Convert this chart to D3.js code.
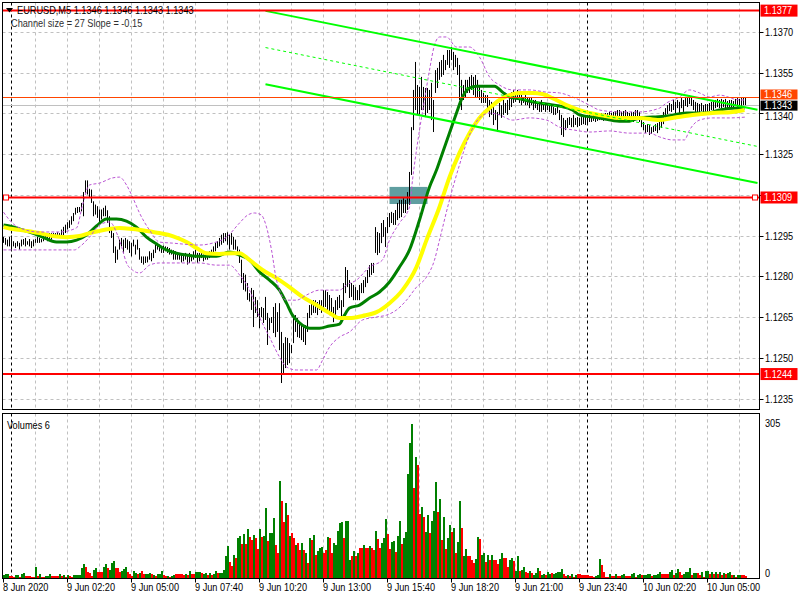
<!DOCTYPE html>
<html><head><meta charset="utf-8">
<script src="https://cdn.jsdelivr.net/npm/d3@7/dist/d3.min.js"></script>
<style>body{margin:0;background:#fff}svg{display:block}text{font-family:"Liberation Sans",Arial,sans-serif;font-size:10px}</style>
</head><body><svg id="c" width="800" height="600"></svg>
<script>
// ---------- DATA ----------
const symbolTitle = "EURUSD,M5  1.1346 1.1346 1.1343 1.1343";
const channelText = "Channel size = 27 Slope = -0.15";
const volumeTitle = "Volumes 6";
const priceTicks = [1.1370,1.1355,1.1340,1.1325,1.1310,1.1295,1.1280,1.1265,1.1250,1.1235];
const hiddenTickLabels = [1.1310]; // covered by the 1.1309 level label in the original
const timeLabelBars = [0,32,64,96,128,160,192,224,256,288,320,352];
const timeLabels = ["8 Jun 2020","9 Jun 02:20","9 Jun 05:00","9 Jun 07:40","9 Jun 10:20","9 Jun 13:00","9 Jun 15:40","9 Jun 18:20","9 Jun 21:00","9 Jun 23:40","10 Jun 02:20","10 Jun 05:00"];
const gridBars = [16,32,48,64,80,96,112,128,144,160,176,192,208,224,240,256,272,288,304,320,336,352,368];
const daySeparatorBars = [4,292];
const volumeTicks = [305,0];

const highs = [
1.12945,1.12941,1.12935,1.12945,1.12950,1.12929,1.12923,1.12929,1.12923,1.12935,
1.12937,1.12941,1.12929,1.12937,1.12929,1.12935,1.12937,1.12945,1.12941,1.12937,
1.12950,1.12959,1.12953,1.12959,1.12959,1.12959,1.12959,1.12962,1.12959,1.12972,
1.12982,1.12990,1.12999,1.13006,1.13021,1.13033,1.13052,1.13055,1.13055,1.13070,
1.13110,1.13153,1.13153,1.13122,1.13119,1.13076,1.13064,1.13058,1.13046,1.13046,
1.13052,1.13060,1.13043,1.13021,1.12972,1.12959,1.12910,1.12898,1.12935,1.12941,
1.12935,1.12941,1.12935,1.12929,1.12923,1.12935,1.12916,1.12935,1.12904,1.12873,
1.12873,1.12873,1.12873,1.12892,1.12886,1.12898,1.12916,1.12923,1.12916,1.12910,
1.12913,1.12910,1.12908,1.12904,1.12898,1.12896,1.12892,1.12886,1.12883,1.12883,
1.12880,1.12886,1.12880,1.12886,1.12880,1.12892,1.12898,1.12886,1.12886,1.12892,
1.12880,1.12886,1.12883,1.12892,1.12898,1.12910,1.12923,1.12929,1.12941,1.12953,
1.12959,1.12959,1.12962,1.12953,1.12959,1.12945,1.12935,1.12910,1.12898,1.12861,
1.12812,1.12806,1.12775,1.12738,
1.12757,1.12749,1.12724,1.12712,1.12683,1.12687,1.12683,1.12724,1.12665,1.12646,
1.12650,1.12687,1.12701,1.12668,1.12701,1.12595,1.12554,1.12576,1.12573,1.12554,
1.12547,1.12650,1.12657,1.12646,1.12628,1.12628,1.12620,1.12620,1.12665,1.12694,
1.12705,1.12712,1.12712,1.12705,1.12712,1.12712,1.12749,1.12749,1.12742,1.12731,
1.12720,1.12687,1.12712,1.12724,1.12731,1.12712,1.12775,1.12834,1.12823,1.12786,
1.12775,1.12768,1.12760,1.12749,1.12768,1.12775,1.12786,1.12797,1.12823,1.12841,
1.12849,1.12849,1.12981,1.12963,1.12959,1.12996,1.13007,1.12981,1.13018,1.13033,
1.13037,1.13033,1.13044,1.13070,1.13081,1.13081,1.13088,1.13081,1.13110,1.13184,
1.13349,1.13486,1.13589,1.13504,1.13497,1.13534,1.13497,1.13493,1.13493,1.13486,
1.13512,1.13449,1.13559,1.13567,1.13589,1.13596,1.13615,1.13596,1.13633,1.13633,
1.13644,1.13626,1.13615,1.13604,1.13578,1.13523,1.13504,1.13523,1.13523,1.13534,
1.13541,1.13534,1.13541,1.13523,1.13504,1.13486,1.13475,1.13467,1.13467,1.13449,
1.13442,1.13430,1.13412,1.13405,1.13438,1.13430,1.13449,1.13438,1.13449,1.13467,
1.13478,1.13486,1.13478,1.13486,1.13478,1.13475,1.13460,1.13467,1.13460,1.13456,
1.13460,1.13449,1.13449,1.13438,1.13438,1.13449,1.13438,1.13438,1.13430,1.13438,
1.13430,1.13423,1.13419,1.13423,1.13412,1.13394,1.13383,1.13375,1.13383,1.13386,
1.13383,1.13394,1.13383,1.13386,1.13383,1.13386,1.13386,1.13390,1.13394,1.13394,
1.13390,1.13397,1.13397,1.13394,1.13397,1.13401,1.13397,1.13401,1.13401,1.13405,
1.13401,1.13405,1.13408,1.13412,1.13412,1.13405,1.13408,1.13412,1.13405,1.13401,
1.13405,1.13405,1.13412,1.13412,1.13405,1.13375,1.13368,1.13357,1.13360,1.13357,
1.13349,1.13353,1.13360,1.13364,1.13368,1.13383,1.13405,1.13419,1.13430,1.13438,
1.13434,1.13449,1.13442,1.13449,1.13442,1.13456,1.13449,1.13456,1.13460,1.13467,
1.13460,1.13449,1.13442,1.13438,1.13434,1.13438,1.13430,1.13434,1.13434,1.13438,
1.13442,1.13445,1.13449,1.13453,1.13449,1.13453,1.13449,1.13453,1.13445,1.13449,
1.13449,1.13445,1.13453,1.13456,1.13453,1.13456,1.13460,1.13460];

const lows = [
1.12923,1.12916,1.12910,1.12910,1.12898,1.12910,1.12904,1.12910,1.12898,1.12910,
1.12916,1.12910,1.12916,1.12910,1.12904,1.12910,1.12923,1.12923,1.12923,1.12925,
1.12929,1.12935,1.12929,1.12932,1.12935,1.12941,1.12945,1.12945,1.12941,1.12945,
1.12950,1.12959,1.12972,1.12978,1.12990,1.13003,1.13027,1.13033,1.13036,1.13039,
1.13021,1.13107,1.13101,1.13089,1.13070,1.13021,1.13027,1.13015,1.12996,1.13009,
1.13021,1.13021,1.12996,1.12959,1.12941,1.12886,1.12849,1.12861,1.12898,1.12910,
1.12886,1.12904,1.12898,1.12886,1.12873,1.12910,1.12880,1.12898,1.12861,1.12849,
1.12843,1.12849,1.12851,1.12861,1.12855,1.12867,1.12886,1.12898,1.12892,1.12886,
1.12886,1.12892,1.12886,1.12880,1.12880,1.12861,1.12861,1.12861,1.12861,1.12851,
1.12855,1.12861,1.12843,1.12849,1.12855,1.12861,1.12867,1.12849,1.12855,1.12867,
1.12855,1.12861,1.12861,1.12867,1.12873,1.12886,1.12892,1.12904,1.12910,1.12916,
1.12923,1.12929,1.12916,1.12898,1.12916,1.12898,1.12898,1.12886,1.12849,1.12775,
1.12750,1.12744,1.12713,1.12707,
1.12676,1.12613,1.12665,1.12650,1.12609,1.12650,1.12628,1.12639,1.12547,1.12602,
1.12628,1.12591,1.12576,1.12595,1.12528,1.12407,1.12444,1.12462,1.12473,1.12480,
1.12517,1.12554,1.12595,1.12576,1.12573,1.12565,1.12558,1.12547,1.12595,1.12646,
1.12657,1.12665,1.12665,1.12657,1.12676,1.12665,1.12676,1.12687,1.12668,1.12657,
1.12657,1.12631,1.12657,1.12676,1.12683,1.12650,1.12687,1.12738,1.12760,1.12720,
1.12724,1.12712,1.12712,1.12712,1.12712,1.12738,1.12738,1.12760,1.12775,1.12797,
1.12805,1.12812,1.12886,1.12878,1.12886,1.12922,1.12945,1.12908,1.12959,1.12981,
1.12996,1.12989,1.12989,1.13007,1.13014,1.13018,1.13033,1.13033,1.13044,1.13062,
1.13173,1.13338,1.13412,1.13394,1.13394,1.13412,1.13412,1.13386,1.13401,1.13412,
1.13375,1.13331,1.13475,1.13493,1.13523,1.13534,1.13541,1.13559,1.13578,1.13567,
1.13596,1.13559,1.13570,1.13541,1.13449,1.13412,1.13449,1.13460,1.13475,1.13475,
1.13486,1.13467,1.13460,1.13460,1.13449,1.13438,1.13438,1.13438,1.13419,1.13386,
1.13394,1.13357,1.13375,1.13331,1.13394,1.13383,1.13394,1.13401,1.13394,1.13412,
1.13423,1.13438,1.13442,1.13449,1.13438,1.13430,1.13438,1.13430,1.13430,1.13419,
1.13430,1.13412,1.13419,1.13412,1.13405,1.13405,1.13412,1.13405,1.13412,1.13405,
1.13401,1.13394,1.13394,1.13401,1.13375,1.13320,1.13313,1.13338,1.13346,1.13357,
1.13349,1.13349,1.13357,1.13349,1.13353,1.13357,1.13360,1.13357,1.13364,1.13368,
1.13368,1.13372,1.13368,1.13372,1.13375,1.13375,1.13372,1.13375,1.13375,1.13379,
1.13375,1.13379,1.13383,1.13375,1.13372,1.13375,1.13383,1.13386,1.13375,1.13375,
1.13379,1.13368,1.13383,1.13375,1.13368,1.13349,1.13338,1.13327,1.13331,1.13320,
1.13324,1.13331,1.13335,1.13327,1.13338,1.13346,1.13360,1.13383,1.13397,1.13408,
1.13405,1.13412,1.13394,1.13419,1.13401,1.13419,1.13405,1.13427,1.13423,1.13434,
1.13427,1.13412,1.13405,1.13401,1.13401,1.13408,1.13401,1.13405,1.13405,1.13408,
1.13412,1.13412,1.13419,1.13423,1.13419,1.13419,1.13423,1.13419,1.13416,1.13419,
1.13423,1.13419,1.13427,1.13423,1.13423,1.13427,1.13430,1.13430];

const volumes = [
5,7,7,3,3,2,5,5,2,7,10,4,4,4,1,1,
22,3,7,2,2,3,4,7,4,4,4,3,7,3,5,2,5,3,2,5,5,
5,5,20,28,21,12,10,4,15,19,11,11,11,21,27,20,16,30,33,20,
20,12,14,17,21,11,7,3,14,10,8,9,13,7,7,7,9,7,6,4,
7,8,14,5,3,4,1,3,5,7,7,7,7,5,7,5,14,7,7,11,
11,11,9,7,10,6,9,6,8,14,9,10,10,15,
43,63,32,23,45,40,79,84,67,88,67,98,82,75,86,80,57,98,82,84,
138,73,90,90,118,65,50,193,152,110,148,124,84,90,80,65,69,55,69,55,
50,29,79,75,86,45,53,59,61,49,55,82,80,49,69,65,94,108,110,79,
112,112,35,43,53,43,49,59,59,66,59,59,64,59,55,94,78,
59,69,79,116,88,57,71,73,51,84,112,67,79,92,205,267,305,178,239,223,
126,140,120,92,124,90,112,132,191,130,156,75,120,57,79,104,92,100,49,71,
152,100,43,57,43,43,35,29,37,82,77,45,49,31,45,35,45,35,35,27,
37,49,39,39,21,35,39,33,13,43,13,15,21,11,9,13,9,5,9,19,
13,5,7,5,11,7,9,7,9,11,11,17,7,3,5,3,7,1,5,7,
7,5,5,5,5,3,3,1,3,5,37,25,11,1,1,7,3,3,7,3,
3,5,7,3,3,3,7,9,1,5,7,5,5,5,7,7,3,5,5,7,
11,7,7,7,7,11,15,5,9,17,11,5,7,11,11,19,5,9,9,9,
5,11,1,13,13,7,11,7,11,7,11,5,9,7,9,11,5,5,1,5,
5,5,5,4];

const volumeDirection = (
"GGGRRRGGRG"+"GRRRRRGRGR"+"RGGGRRRRGR"+"GRGRRGGGGG"+"GRRRRGGRRR"+
"GGRGGGRRRG"+"GGRRRGGRGR"+"RGGGRGRGGG"+"RRGRGGRRRR"+"RGRGRRGGGR"+"GGRGRGGRGGG"+
"GGRRGRGGRG"+"RGRRGRRGRG"+"GRGGGRRGRR"+"GRGRRGRRGR"+"GRGRGRGGGR"+"RGRRGGGGGR"+"GGGRGRGRRG"+"RRGRRGR"+
"RGGGRRGGRG"+"GRGGGGGRGR"+"RGRGGRGGGR"+"GRGRGGRGRG"+"GRGGRRRRGG"+"RGGRGRGRRR"+"GGRRRGGRGG"+
"RGGRRGRGGG"+"RGGRGGRGGG"+"GGRRGRGRGR"+"RRRRRRRRGG"+"GRRRRGRRGR"+"RGGRRRGGRG"+"GRGGGGRGGG"+
"GRRRRGGRGG"+"RRGGGGRGGR"+"RGRGGRGRGR"+"GRGRGGRGRG"+"GRRR").split("");

// moving averages (bar index, price)
const greenMABars = [0,3,8,14.5,19.5,26.5,31.5,36.5,41.5,46.5,51.5,56.5,61.5,66.5,71.5,76.5,81.5,86.5,91.5,96.5,106.5,113,118,123,128,133,138,141.5,144.5,148,153,158,163,168,170.5,173,178,183,188,193,198,203,208,213,216.5,219.5,223,226.5,229.5,233,236.5,245.5,249.5,253,258,264.5,271.5,278,284.5,288,298,308,313,318,324.5,331.5,341.5,351.5,358,364.5,370.5];
const greenMA = [1.12989,1.12985,1.12974,1.12959,1.12944,1.12926,1.12926,1.12933,1.12952,1.12985,1.13011,1.13011,1.13003,1.12981,1.12944,1.12919,1.12897,1.12885,1.12878,1.12874,1.12874,1.12889,1.12878,1.12860,1.12816,1.12786,1.12749,1.12701,1.12657,1.12628,1.12609,1.12609,1.12617,1.12624,1.12657,1.12683,1.12694,1.12720,1.12742,1.12779,1.12834,1.12897,1.13007,1.13129,1.13191,1.13254,1.13327,1.13401,1.13460,1.13493,1.13500,1.13500,1.13478,1.13460,1.13453,1.13442,1.13434,1.13427,1.13412,1.13394,1.13383,1.13371,1.13371,1.13383,1.13386,1.13390,1.13401,1.13401,1.13412,1.13419,1.13419];
const yellowMABars = [0,4.5,11.5,18,24.5,31.5,38,43,48,53,58,64.5,71.5,78,84.5,91.5,96.5,101.5,108,114.5,118,123,129.5,136.5,143,149.5,156.5,163,168,173,179.5,186.5,193,199.5,206.5,211.5,218,223,228,233,238,243,248,253,258,264.5,269.5,274.5,281.5,288,298,308,318,328,334.5,344.5,354.5,364.5,370.5];
const yellowMA = [1.12981,1.12974,1.12967,1.12959,1.12948,1.12944,1.12948,1.12959,1.12967,1.12974,1.12978,1.12974,1.12967,1.12959,1.12948,1.12926,1.12904,1.12885,1.12882,1.12885,1.12885,1.12860,1.12823,1.12793,1.12760,1.12724,1.12694,1.12665,1.12646,1.12646,1.12654,1.12668,1.12701,1.12749,1.12834,1.12933,1.13055,1.13165,1.13254,1.13327,1.13383,1.13419,1.13449,1.13467,1.13475,1.13475,1.13471,1.13456,1.13430,1.13412,1.13394,1.13383,1.13383,1.13375,1.13383,1.13394,1.13401,1.13405,1.13412];
const upperBandBars = [0,3,8,18,28,36.5,39.5,43,48,54.5,58,61.5,64.5,68,73,78,84.5,98,104.5,111.5,118,122,125.5,129,131.5,134,136.5,141.5,146.5,151.5,158,168,171.5,176.5,183,189.5,193,198,203,204.5,208,210.5,213,215.5,218,221.5,226.5,233,238,243,248,254.5,263,271.5,278,284.5,293,298,308,318,328,331.5,338,343,348,353,358,368,371];
const upperBand = [1.13036,1.13007,1.12978,1.12963,1.12963,1.12978,1.13062,1.13136,1.13143,1.13162,1.13165,1.13136,1.13092,1.13033,1.12970,1.12926,1.12922,1.12915,1.12922,1.12944,1.12996,1.13025,1.13033,1.13025,1.12981,1.12897,1.12786,1.12712,1.12712,1.12731,1.12749,1.12749,1.12768,1.12786,1.12834,1.12860,1.12933,1.12996,1.13055,1.13154,1.13338,1.13449,1.13559,1.13651,1.13681,1.13681,1.13644,1.13644,1.13607,1.13534,1.13504,1.13486,1.13486,1.13478,1.13475,1.13460,1.13430,1.13412,1.13405,1.13405,1.13419,1.13438,1.13460,1.13486,1.13475,1.13460,1.13467,1.13449,1.13449];
const lowerBandBars = [0,8,35.5,38,43,48,53,57,59.5,61.5,64.5,68,73,78,88,98,106.5,113,118,123,128,133,138,141.5,146.5,156.5,159.5,163,168,173,179.5,186.5,191.5,196.5,201.5,206.5,211.5,215.5,218,223,228,233,238,243,248,254.5,263,271.5,278,285.5,293,303,313,323,328,334.5,340.5,343,348,354.5,363,371];
const lowerBand = [1.12897,1.12897,1.12897,1.12908,1.12944,1.12989,1.13000,1.12952,1.12897,1.12849,1.12823,1.12812,1.12841,1.12849,1.12849,1.12849,1.12841,1.12841,1.12805,1.12749,1.12650,1.12576,1.12503,1.12466,1.12455,1.12455,1.12491,1.12539,1.12576,1.12595,1.12639,1.12650,1.12657,1.12676,1.12712,1.12760,1.12797,1.12860,1.12933,1.13081,1.13210,1.13320,1.13383,1.13401,1.13394,1.13375,1.13383,1.13375,1.13349,1.13338,1.13331,1.13335,1.13327,1.13327,1.13313,1.13302,1.13302,1.13338,1.13375,1.13383,1.13383,1.13386];

// regression channel (bar index, price)
const channelBars = [131,377];
const channelUpper = [1.13777,1.13413];
const channelMiddle = [1.13642,1.13278];
const channelLower = [1.13507,1.13143];

// rectangle object
const rectBars = [193,212];
const rectPrices = [1.13129,1.13066];

// horizontal levels
const levelPrices = [1.13778,1.1309,1.1244];
const levelLabels = ["1.1377","1.1309","1.1244"];
const askPrice = 1.1346, askLabel = "1.1346";
const bidPrice = 1.1343, bidLabel = "1.1343";

// ---------- DRAW ----------
const svg = d3.select("#c");
const L = 2.5, R = 759.5, T = 2.5, B = 409.5, VT = 413.5, VB = 578.5;
const x = d3.scaleLinear().domain([0,377]).range([3.5,757.5]);
const y = d3.scaleLinear().domain([1.1235,1.1370]).range([398.5,31.8]);
const yv = d3.scaleLinear().domain([0,305]).range([578,424]);
const SX = 0.92;

function txt(g, px, py, s, fill){
  return g.append("text").attr("transform",`translate(${px},${py}) scale(${SX},1)`)
    .attr("fill", fill||"#000").text(s);
}

svg.append("rect").attr("width",800).attr("height",600).attr("fill","#fff");
const defs = svg.append("defs");
defs.append("clipPath").attr("id","mainClip").append("rect").attr("x",L).attr("y",T).attr("width",R-L).attr("height",B-T);
defs.append("clipPath").attr("id","volClip").append("rect").attr("x",L).attr("y",VT).attr("width",R-L).attr("height",VB-VT);

const main = svg.append("g").attr("clip-path","url(#mainClip)");
// grid
main.selectAll(".hg").data(priceTicks).join("line")
  .attr("x1",L).attr("x2",R).attr("y1",d=>Math.round(y(d))+0.5).attr("y2",d=>Math.round(y(d))+0.5)
  .attr("stroke","#c0c0c0").attr("stroke-dasharray","3,3");
main.selectAll(".vg").data(gridBars.filter(b=>!daySeparatorBars.includes(b))).join("line")
  .attr("x1",d=>x(d)).attr("x2",d=>x(d)).attr("y1",T).attr("y2",B)
  .attr("stroke","#c0c0c0").attr("stroke-dasharray","3,3");
main.selectAll(".ds").data(daySeparatorBars).join("line")
  .attr("x1",d=>x(d)).attr("x2",d=>x(d)).attr("y1",T).attr("y2",B)
  .attr("stroke","#000").attr("stroke-dasharray","3,3");
// rectangle object
main.append("rect").attr("x",x(rectBars[0])).attr("width",x(rectBars[1])-x(rectBars[0]))
  .attr("y",y(rectPrices[0])).attr("height",y(rectPrices[1])-y(rectPrices[0])).attr("fill","#5f9ea0");
// bid line
main.append("line").attr("x1",L).attr("x2",R).attr("y1",Math.round(y(bidPrice))+0.5).attr("y2",Math.round(y(bidPrice))+0.5)
  .attr("stroke","#c0c0c0");
// price bars
main.selectAll(".bar").data(highs).join("line")
  .attr("x1",(d,i)=>x(i)).attr("x2",(d,i)=>x(i))
  .attr("y1",d=>y(d)).attr("y2",(d,i)=>Math.max(y(lows[i]),y(d)+1))
  .attr("stroke","#000").attr("stroke-width",1);
// moving averages
const lineGen = (bars)=>d3.line().x((d,i)=>x(bars[i])).y(d=>y(d)).curve(d3.curveMonotoneX);
main.append("path").attr("d",lineGen(greenMABars)(greenMA)).attr("fill","none").attr("stroke","#008000").attr("stroke-width",3);
main.append("path").attr("d",lineGen(yellowMABars)(yellowMA)).attr("fill","none").attr("stroke","#ffff00").attr("stroke-width",4);
// bands
main.append("path").attr("d",lineGen(upperBandBars)(upperBand)).attr("fill","none").attr("stroke","#ba55d3").attr("stroke-dasharray","3,2");
main.append("path").attr("d",lineGen(lowerBandBars)(lowerBand)).attr("fill","none").attr("stroke","#ba55d3").attr("stroke-dasharray","3,2");
// channel
const straight = d3.line().x((d,i)=>x(channelBars[i])).y(d=>y(d));
main.append("path").attr("d",straight(channelUpper)).attr("stroke","#00ff00").attr("stroke-width",2).attr("fill","none");
main.append("path").attr("d",straight(channelLower)).attr("stroke","#00ff00").attr("stroke-width",2).attr("fill","none");
main.append("path").attr("d",straight(channelMiddle)).attr("stroke","#00ff00").attr("stroke-width",1).attr("stroke-dasharray","3,3").attr("fill","none");
// ask line
main.append("line").attr("x1",L).attr("x2",R).attr("y1",Math.round(y(askPrice))+0.5).attr("y2",Math.round(y(askPrice))+0.5)
  .attr("stroke","#ff4500");

// header text
const hdr = svg.append("g");
hdr.append("path").attr("d","M6,8 L13,8 L9.5,12.5 Z").attr("fill","#000");
txt(hdr, 17, 14, symbolTitle);
txt(hdr, 11, 27, channelText, "#303030");

// level lines
main.selectAll(".lvl").data(levelPrices).join("line")
  .attr("x1",L).attr("x2",R).attr("y1",d=>y(d)).attr("y2",d=>y(d))
  .attr("stroke","#ff0000").attr("stroke-width",2);
svg.append("rect").attr("x",3.5).attr("y",y(levelPrices[1])-2.5).attr("width",5).attr("height",5).attr("fill","#fff").attr("stroke","#ff0000");
svg.append("rect").attr("x",752.5).attr("y",y(levelPrices[1])-2.5).attr("width",5).attr("height",5).attr("fill","#fff").attr("stroke","#ff0000");

// volume panel
const vol = svg.append("g").attr("clip-path","url(#volClip)");
vol.selectAll(".vg").data(gridBars.filter(b=>!daySeparatorBars.includes(b))).join("line")
  .attr("x1",d=>x(d)).attr("x2",d=>x(d)).attr("y1",VT).attr("y2",VB)
  .attr("stroke","#c0c0c0").attr("stroke-dasharray","3,3");
vol.selectAll(".ds").data(daySeparatorBars).join("line")
  .attr("x1",d=>x(d)).attr("x2",d=>x(d)).attr("y1",VT).attr("y2",VB)
  .attr("stroke","#000").attr("stroke-dasharray","3,3");
vol.selectAll(".vb").data(volumes).join("rect")
  .attr("x",(d,i)=>x(i)-0.5).attr("width",2)
  .attr("y",d=>yv(d)).attr("height",d=>yv(0)-yv(d))
  .attr("fill",(d,i)=>volumeDirection[i]==="G"?"#008000":"#ff0000")
  .attr("shape-rendering","crispEdges");
txt(svg, 7, 429, volumeTitle);

// borders
svg.append("rect").attr("x",L).attr("y",T).attr("width",R-L).attr("height",B-T).attr("fill","none").attr("stroke","#000");
svg.append("rect").attr("x",L).attr("y",VT).attr("width",R-L).attr("height",VB-VT).attr("fill","none").attr("stroke","#000");

// price axis
const ax = svg.append("g");
priceTicks.forEach(p=>{
  const yy = Math.round(y(p))+0.5;
  ax.append("line").attr("x1",R).attr("x2",R+4).attr("y1",yy).attr("y2",yy).attr("stroke","#000");
  if(hiddenTickLabels.includes(p)) return;
  // the label just under the bid box is pushed down a little so the two do not collide
  const nudge = Math.abs(p - bidPrice) < 0.0005 ? 3 : 0;
  txt(ax, 765, yy+3.5+nudge, p.toFixed(4));
});
// volume axis
txt(ax, 765, 427, String(volumeTicks[0]));
txt(ax, 765, 577, String(volumeTicks[1]));

// level labels
function levelLabel(yc, label, fill, h){
  ax.append("rect").attr("x",760.5).attr("y",yc-h/2).attr("width",37).attr("height",h).attr("fill",fill);
  txt(ax, 764, yc+3.5, label, "#fff");
}
levelLabel(y(levelPrices[0]), levelLabels[0], "#ff0000", 12);
levelLabel(y(askPrice)-2.5, askLabel, "#ff4500", 10);
levelLabel(y(bidPrice)+0.5, bidLabel, "#000", 10);
levelLabel(y(levelPrices[1]), levelLabels[1], "#ff0000", 12);
levelLabel(y(levelPrices[2]), levelLabels[2], "#ff0000", 12);

// time axis
timeLabelBars.forEach((b,k)=>{
  const xx = Math.round(x(b)-0.5)+0.5;
  ax.append("line").attr("x1",xx).attr("x2",xx).attr("y1",VB).attr("y2",VB+4).attr("stroke","#000");
  txt(ax, Math.max(3, x(b)-0.5), 591, timeLabels[k]);
});
</script>
</body></html>
